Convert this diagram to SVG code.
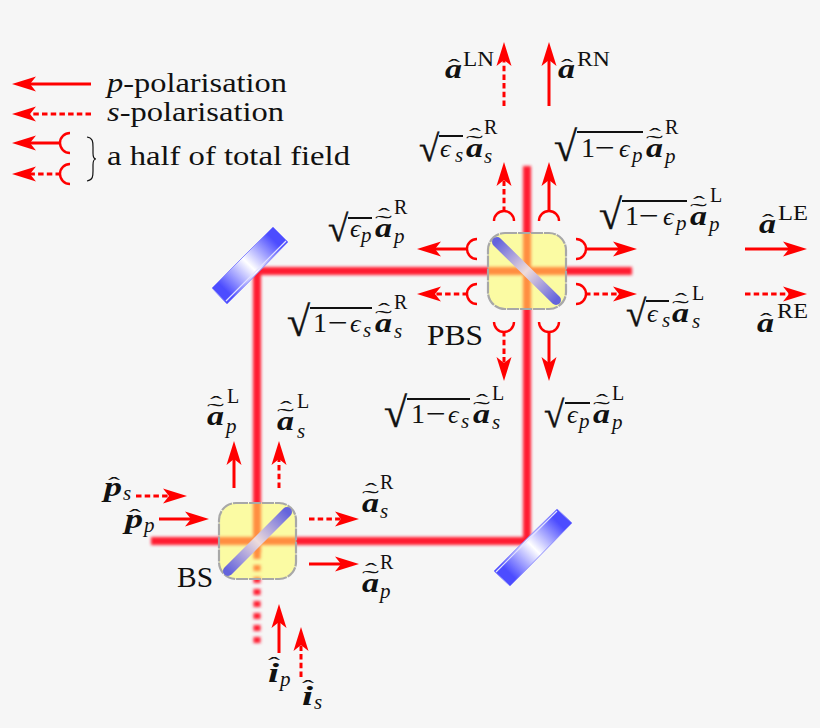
<svg xmlns="http://www.w3.org/2000/svg" width="820" height="728" viewBox="0 0 820 728">
<style>
text{font-family:"Liberation Serif",serif;fill:#111}
.t{font-size:28px}
.pl{font-size:30px}
.b{font-size:28px;font-weight:bold;font-style:italic}
.m{font-size:28px}
.e{font-size:26px;font-style:italic}
.sub{font-size:21px;font-style:italic}
.sup{font-size:20px}
.hat{font-size:22px}
.tld{font-size:22px}
.rad{font-size:37px;stroke:#111;stroke-width:.4}
.rad2{font-size:42px;stroke:#111;stroke-width:.4}
.vin{stroke:#111;stroke-width:2;fill:none}
.ar{fill:none;stroke:#f00;stroke-width:3;marker-end:url(#head)}
.da{stroke-dasharray:5.5 3.2}
.hf{marker-start:url(#cup)}
.box{fill:#ffff50;fill-opacity:.5;stroke:#a8a8a8;stroke-width:2.2;stroke-dasharray:12 1}
.bar{fill:none;stroke-width:10;stroke-linecap:round}
.mir{stroke:#8a8aff;stroke-width:1}
.strip{stroke:#e4e4ff;stroke-width:1.2}
</style>
<defs>
<marker id="head" markerUnits="userSpaceOnUse" viewBox="-10 -10 30 20" refX="0" refY="0" markerWidth="30" markerHeight="20" orient="auto"><polygon points="-6,-7.5 18,0 -6,7.5 0,0" fill="#f00"/></marker>
<marker id="cup" markerUnits="userSpaceOnUse" viewBox="-14 -14 20 28" refX="0" refY="0" markerWidth="20" markerHeight="28" orient="auto"><path d="M-9,-10 A10,10 0 0 1 -9,10" fill="none" stroke="#f00" stroke-width="2.4"/></marker>
<filter id="blur" filterUnits="userSpaceOnUse" x="0" y="0" width="820" height="728"><feGaussianBlur stdDeviation="1.6"/></filter>
<linearGradient id="gP" gradientUnits="userSpaceOnUse" x1="497" y1="242" x2="556" y2="300"><stop offset="0" stop-color="#6464dc"/><stop offset=".5" stop-color="#eedcdc"/><stop offset="1" stop-color="#6464dc"/></linearGradient>
<linearGradient id="gB" gradientUnits="userSpaceOnUse" x1="228" y1="571" x2="287" y2="512"><stop offset="0" stop-color="#6464dc"/><stop offset=".5" stop-color="#eedcdc"/><stop offset="1" stop-color="#6464dc"/></linearGradient>
<linearGradient id="gM1" gradientUnits="userSpaceOnUse" x1="280" y1="234" x2="219" y2="296"><stop offset=".1" stop-color="#4c4cff"/><stop offset=".5" stop-color="#fff"/><stop offset=".9" stop-color="#4c4cff"/></linearGradient>
<linearGradient id="gM2" gradientUnits="userSpaceOnUse" x1="564" y1="516" x2="502" y2="578"><stop offset=".1" stop-color="#4c4cff"/><stop offset=".5" stop-color="#fff"/><stop offset=".9" stop-color="#4c4cff"/></linearGradient>
</defs>
<rect width="820" height="728" fill="#f6f6f6"/>

<g id="beams" filter="url(#blur)" fill="none" stroke="#ff1a30">
<path d="M632,271H257V553" stroke-width="8"/>
<path d="M527,166V541H151" stroke-width="8"/>
<path d="M257,553V644" stroke-width="7" stroke-dasharray="6 6"/>
</g>

<g id="mirror-nw"><polygon class="mir" points="273,227 288,242 227,304 212,288" fill="url(#gM1)"/><path class="strip" d="M286,241L226,301"/></g>
<g id="mirror-se"><polygon class="mir" points="557,509 572,523 510,586 494,571" fill="url(#gM2)"/><path class="strip" d="M496,572L557,511"/></g>
<g id="pbs"><rect class="box" x="488" y="233" width="78" height="76" rx="17"/><path class="bar" d="M497,242L556,300" stroke="url(#gP)"/><text class="pl" x="427" y="345" textLength="56" lengthAdjust="spacingAndGlyphs">PBS</text></g>
<g id="bs"><rect class="box" x="219" y="503" width="77" height="76" rx="17"/><path class="bar" d="M228,571L287,512" stroke="url(#gB)"/><text class="pl" x="177" y="587" textLength="36" lengthAdjust="spacingAndGlyphs">BS</text></g>

<g id="connectors">
<path class="ar" d="M91,84H30"/>
<path class="ar da" d="M91,114H30"/>
<path class="ar hf" d="M61,143H30"/>
<path class="ar da hf" d="M61,174H30"/>
<path class="ar da" d="M504,106V60"/>
<path class="ar" d="M549,106V60"/>
<path class="ar da hf" d="M504,212V180"/>
<path class="ar hf" d="M549,212V180"/>
<path class="ar hf" d="M468,249H435"/>
<path class="ar da hf" d="M468,294H435"/>
<path class="ar hf" d="M585,249H619"/>
<path class="ar da hf" d="M585,294H619"/>
<path class="ar da hf" d="M504,331V363"/>
<path class="ar hf" d="M549,331V363"/>
<path class="ar" d="M745,249H789"/>
<path class="ar da" d="M745,294H789"/>
<path class="ar" d="M234,488V459"/>
<path class="ar da" d="M279,488V459"/>
<path class="ar da" d="M136,496H169"/>
<path class="ar" d="M159,519H191"/>
<path class="ar da" d="M309,519H341"/>
<path class="ar" d="M309,564H341"/>
<path class="ar" d="M279,653V622"/>
<path class="ar da" d="M301,677V645"/>
</g>

<g id="legend">
<text class="t" x="107" y="92" textLength="180" lengthAdjust="spacingAndGlyphs"><tspan font-style="italic">p</tspan>-polarisation</text>
<text class="t" x="107" y="121" textLength="177" lengthAdjust="spacingAndGlyphs"><tspan font-style="italic">s</tspan>-polarisation</text>
<path d="M87,137C93,138 93,142 93,147V153C93,157 94,159 96,159C94,159 93,161 93,165V171C93,176 93,180 87,181" fill="none" stroke="#111" stroke-width="1.2"/>
<text class="t" x="107" y="165" textLength="243" lengthAdjust="spacingAndGlyphs">a half of total field</text>
</g>

<g id="a-LN" transform="translate(445,78)"><text class="b" textLength="17" lengthAdjust="spacingAndGlyphs">a</text><text class="hat" x="3" y="-4" textLength="12" lengthAdjust="spacingAndGlyphs">ˆ</text><text class="sup" x="18" y="-12" textLength="31" lengthAdjust="spacingAndGlyphs">LN</text></g>
<g id="a-RN" transform="translate(558,78)"><text class="b" textLength="17" lengthAdjust="spacingAndGlyphs">a</text><text class="hat" x="3" y="-4" textLength="12" lengthAdjust="spacingAndGlyphs">ˆ</text><text class="sup" x="19" y="-12" textLength="33" lengthAdjust="spacingAndGlyphs">RN</text></g>
<g id="a-LE" transform="translate(759,233)"><text class="b" textLength="17" lengthAdjust="spacingAndGlyphs">a</text><text class="hat" x="3" y="-4" textLength="12" lengthAdjust="spacingAndGlyphs">ˆ</text><text class="sup" x="19" y="-13" textLength="30" lengthAdjust="spacingAndGlyphs">LE</text></g>
<g id="a-RE" transform="translate(757,332)"><text class="b" textLength="17" lengthAdjust="spacingAndGlyphs">a</text><text class="hat" x="3" y="-4" textLength="12" lengthAdjust="spacingAndGlyphs">ˆ</text><text class="sup" x="20" y="-14" textLength="31" lengthAdjust="spacingAndGlyphs">RE</text></g>

<g id="a-s-R-top" transform="translate(466,157)"><text class="rad" x="-47" y="4">√</text><path class="vin" d="M-27,-21H-3"/><text class="e" x="-26">ϵ</text><text class="sub" x="-11" y="5">s</text><text class="b" textLength="17" lengthAdjust="spacingAndGlyphs">a</text><text class="hat" x="3" y="-14" textLength="12" lengthAdjust="spacingAndGlyphs">ˆ</text><text class="tld" x="0" y="-7" textLength="17" lengthAdjust="spacingAndGlyphs">˜</text><text class="sub" x="18" y="6">s</text><text class="sup" x="18" y="-23">R</text></g>
<g id="a-p-R-top" transform="translate(646,157)"><text class="rad2" x="-92" y="4">√</text><path class="vin" d="M-69,-25H-3"/><text class="m" x="-65">1</text><text class="m" x="-51" textLength="20" lengthAdjust="spacingAndGlyphs">−</text><text class="e" x="-27">ϵ</text><text class="sub" x="-14" y="5">p</text><text class="b" textLength="17" lengthAdjust="spacingAndGlyphs">a</text><text class="hat" x="3" y="-14" textLength="12" lengthAdjust="spacingAndGlyphs">ˆ</text><text class="tld" x="0" y="-7" textLength="17" lengthAdjust="spacingAndGlyphs">˜</text><text class="sub" x="19" y="6">p</text><text class="sup" x="19" y="-23">R</text></g>
<g id="a-p-L-right" transform="translate(690,225)"><text class="rad2" x="-91" y="4">√</text><path class="vin" d="M-68,-24H-3"/><text class="m" x="-65">1</text><text class="m" x="-51" textLength="20" lengthAdjust="spacingAndGlyphs">−</text><text class="e" x="-27">ϵ</text><text class="sub" x="-14" y="5">p</text><text class="b" textLength="17" lengthAdjust="spacingAndGlyphs">a</text><text class="hat" x="3" y="-14" textLength="12" lengthAdjust="spacingAndGlyphs">ˆ</text><text class="tld" x="0" y="-7" textLength="17" lengthAdjust="spacingAndGlyphs">˜</text><text class="sub" x="19" y="6">p</text><text class="sup" x="20" y="-23">L</text></g>
<g id="a-s-L-right" transform="translate(672,322)"><text class="rad" x="-46" y="4">√</text><path class="vin" d="M-26,-21H-3"/><text class="e" x="-25">ϵ</text><text class="sub" x="-10" y="5">s</text><text class="b" textLength="17" lengthAdjust="spacingAndGlyphs">a</text><text class="hat" x="3" y="-14" textLength="12" lengthAdjust="spacingAndGlyphs">ˆ</text><text class="tld" x="0" y="-7" textLength="17" lengthAdjust="spacingAndGlyphs">˜</text><text class="sub" x="20" y="6">s</text><text class="sup" x="20" y="-22">L</text></g>
<g id="a-p-R-left" transform="translate(375,237)"><text class="rad" x="-47" y="4">√</text><path class="vin" d="M-27,-19H-3"/><text class="e" x="-25">ϵ</text><text class="sub" x="-14" y="5">p</text><text class="b" textLength="17" lengthAdjust="spacingAndGlyphs">a</text><text class="hat" x="3" y="-14" textLength="12" lengthAdjust="spacingAndGlyphs">ˆ</text><text class="tld" x="0" y="-7" textLength="17" lengthAdjust="spacingAndGlyphs">˜</text><text class="sub" x="19" y="6">p</text><text class="sup" x="19" y="-23">R</text></g>
<g id="a-s-R-left" transform="translate(375,332)"><text class="rad2" x="-88" y="4">√</text><path class="vin" d="M-65,-24H-3"/><text class="m" x="-62">1</text><text class="m" x="-47" textLength="20" lengthAdjust="spacingAndGlyphs">−</text><text class="e" x="-25">ϵ</text><text class="sub" x="-12" y="5">s</text><text class="b" textLength="17" lengthAdjust="spacingAndGlyphs">a</text><text class="hat" x="3" y="-14" textLength="12" lengthAdjust="spacingAndGlyphs">ˆ</text><text class="tld" x="0" y="-7" textLength="17" lengthAdjust="spacingAndGlyphs">˜</text><text class="sub" x="19" y="6">s</text><text class="sup" x="19" y="-23">R</text></g>
<g id="a-s-L-bottom" transform="translate(473,423)"><text class="rad2" x="-89" y="4">√</text><path class="vin" d="M-66,-24H-3"/><text class="m" x="-62">1</text><text class="m" x="-47" textLength="20" lengthAdjust="spacingAndGlyphs">−</text><text class="e" x="-25">ϵ</text><text class="sub" x="-12" y="5">s</text><text class="b" textLength="17" lengthAdjust="spacingAndGlyphs">a</text><text class="hat" x="3" y="-14" textLength="12" lengthAdjust="spacingAndGlyphs">ˆ</text><text class="tld" x="0" y="-7" textLength="17" lengthAdjust="spacingAndGlyphs">˜</text><text class="sub" x="19" y="6">s</text><text class="sup" x="19" y="-23">L</text></g>
<g id="a-p-L-bottom" transform="translate(593,423)"><text class="rad" x="-49" y="4">√</text><path class="vin" d="M-28,-20H-3"/><text class="e" x="-26">ϵ</text><text class="sub" x="-14" y="5">p</text><text class="b" textLength="17" lengthAdjust="spacingAndGlyphs">a</text><text class="hat" x="3" y="-14" textLength="12" lengthAdjust="spacingAndGlyphs">ˆ</text><text class="tld" x="0" y="-7" textLength="17" lengthAdjust="spacingAndGlyphs">˜</text><text class="sub" x="19" y="6">p</text><text class="sup" x="19" y="-23">L</text></g>

<g id="a-p-L" transform="translate(207,425)"><text class="b" textLength="17" lengthAdjust="spacingAndGlyphs">a</text><text class="hat" x="3" y="-14" textLength="12" lengthAdjust="spacingAndGlyphs">ˆ</text><text class="tld" x="0" y="-7" textLength="17" lengthAdjust="spacingAndGlyphs">˜</text><text class="sub" x="19" y="8">p</text><text class="sup" x="20" y="-22">L</text></g>
<g id="a-s-L" transform="translate(277,430)"><text class="b" textLength="17" lengthAdjust="spacingAndGlyphs">a</text><text class="hat" x="3" y="-14" textLength="12" lengthAdjust="spacingAndGlyphs">ˆ</text><text class="tld" x="0" y="-7" textLength="17" lengthAdjust="spacingAndGlyphs">˜</text><text class="sub" x="20" y="8">s</text><text class="sup" x="20" y="-22">L</text></g>
<g id="a-s-R" transform="translate(362,512)"><text class="b" textLength="17" lengthAdjust="spacingAndGlyphs">a</text><text class="hat" x="3" y="-14" textLength="12" lengthAdjust="spacingAndGlyphs">ˆ</text><text class="tld" x="0" y="-7" textLength="17" lengthAdjust="spacingAndGlyphs">˜</text><text class="sub" x="18" y="6">s</text><text class="sup" x="18" y="-23">R</text></g>
<g id="a-p-R" transform="translate(362,592)"><text class="b" textLength="17" lengthAdjust="spacingAndGlyphs">a</text><text class="hat" x="3" y="-14" textLength="12" lengthAdjust="spacingAndGlyphs">ˆ</text><text class="tld" x="0" y="-7" textLength="17" lengthAdjust="spacingAndGlyphs">˜</text><text class="sub" x="18" y="6">p</text><text class="sup" x="18" y="-23">R</text></g>
<g id="p-s" transform="translate(104,496)"><text class="b" textLength="18" lengthAdjust="spacingAndGlyphs">p</text><text class="hat" x="4" y="-4" textLength="12" lengthAdjust="spacingAndGlyphs">ˆ</text><text class="sub" x="19" y="4">s</text></g>
<g id="p-p" transform="translate(125,528)"><text class="b" textLength="18" lengthAdjust="spacingAndGlyphs">p</text><text class="hat" x="4" y="-4" textLength="12" lengthAdjust="spacingAndGlyphs">ˆ</text><text class="sub" x="19" y="4">p</text></g>
<g id="i-p" transform="translate(268,682)"><text class="b" textLength="11" lengthAdjust="spacingAndGlyphs">i</text><text class="hat" x="0" y="-10" textLength="12" lengthAdjust="spacingAndGlyphs">ˆ</text><text class="sub" x="12" y="4">p</text></g>
<g id="i-s" transform="translate(302,705)"><text class="b" textLength="11" lengthAdjust="spacingAndGlyphs">i</text><text class="hat" x="0" y="-10" textLength="12" lengthAdjust="spacingAndGlyphs">ˆ</text><text class="sub" x="12" y="4">s</text></g>
</svg>
